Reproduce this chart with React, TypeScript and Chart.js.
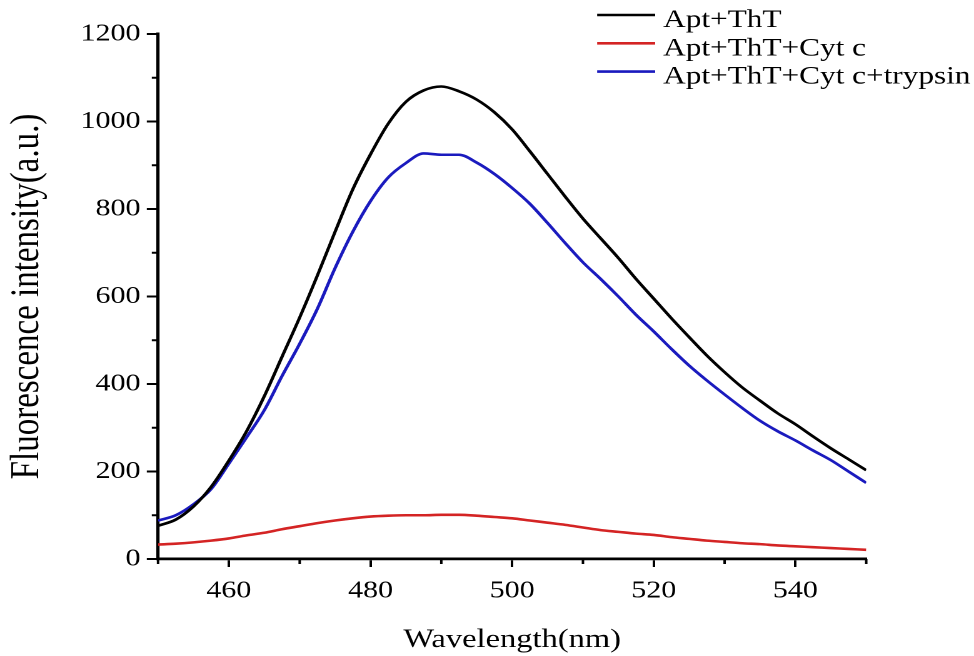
import React, { useEffect, useRef } from "react";
import { Chart, registerables } from "chart.js";

Chart.register(...registerables);

// ---- data ----
const wavelengths = [
  450, 452.5, 455, 457.5, 460, 462.5, 465, 467.5, 470, 472.5,
  475, 477.5, 480, 482.5, 485, 487.5, 490, 492.5, 495, 497.5,
  500, 502.5, 505, 507.5, 510, 512.5, 515, 517.5, 520, 522.5,
  525, 527.5, 530, 532.5, 535, 537.5, 540, 542.5, 545, 547.5, 550,
];

const aptTht = [
  76, 90, 120, 165, 225, 292, 372, 462, 552, 648,
  748, 845, 925, 995, 1045, 1071, 1080, 1069, 1050, 1021,
  982, 932, 880, 828, 778, 733, 688, 640, 595, 550,
  507, 465, 427, 392, 362, 333, 308, 280, 253, 228, 203,
];

const aptThtCyt = [
  33, 35, 38, 42, 47, 54, 60, 68, 75, 82,
  88, 93, 97, 99, 100, 100, 101, 101, 99, 96,
  93, 88, 83, 78, 72, 66, 62, 58, 55, 50,
  46, 42, 39, 36, 34, 31, 29, 27, 25, 23, 21,
];

const aptThtCytTrypsin = [
  88, 100, 125, 160, 218, 278, 340, 418, 492, 572,
  665, 748, 818, 872, 905, 927, 924, 924, 906, 880,
  848, 812, 768, 722, 678, 640, 600, 558, 520, 480,
  442, 408, 376, 345, 316, 292, 271, 248, 226, 200, 174,
];

const seriesLabels = ["Apt+ThT", "Apt+ThT+Cyt c", "Apt+ThT+Cyt c+trypsin"];
const seriesColors = ["#000000", "#d42424", "#1a1abe"];
const seriesValues = [aptTht, aptThtCyt, aptThtCytTrypsin];

const xMin = 450;
const xMax = 550;
const xMinorStep = 10;
const xMajorStep = 20;
const yMin = 0;
const yMax = 1200;
const yMinorStep = 100;
const yMajorStep = 200;

const xTitle = "Wavelength(nm)";
const yTitle = "Fluorescence intensity(a.u.)";

// ---- layout ----
const STRETCH = 1.25;
const CSS_W = 974;
const CSS_H = 656;
const W = Math.round(CSS_W / STRETCH);
const H = CSS_H;
const FONT = '"Liberation Serif", "Times New Roman", serif';

const minorTicksPlugin = {
  id: "minorTicks",
  afterDraw(chart: any) {
    const ctx = chart.ctx;
    const xs = chart.scales.x;
    const ys = chart.scales.y;
    ctx.save();
    ctx.strokeStyle = "#000";
    ctx.lineWidth = 2;
    for (let v = xMin; v <= xMax; v += xMinorStep) {
      if (v % xMajorStep === 0) continue;
      const px = xs.getPixelForValue(v);
      ctx.beginPath();
      ctx.moveTo(px, xs.top);
      ctx.lineTo(px, xs.top + 5);
      ctx.stroke();
    }
    for (let v = yMin; v <= yMax; v += yMinorStep) {
      if (v % yMajorStep === 0) continue;
      const py = ys.getPixelForValue(v);
      ctx.beginPath();
      ctx.moveTo(ys.right, py);
      ctx.lineTo(ys.right - 5, py);
      ctx.stroke();
    }
    ctx.restore();
  },
};

const legendPlugin = {
  id: "customLegend",
  afterDraw(chart: any) {
    const ctx = chart.ctx;
    ctx.save();
    ctx.font = `25px ${FONT}`;
    ctx.textAlign = "left";
    ctx.textBaseline = "alphabetic";
    chart.data.datasets.forEach((ds: any, i: number) => {
      const lineY = 15 + i * 28.3;
      ctx.strokeStyle = ds.borderColor;
      ctx.lineWidth = 2.6;
      ctx.beginPath();
      ctx.moveTo(477.6, lineY);
      ctx.lineTo(524, lineY);
      ctx.stroke();
      ctx.fillStyle = "#000";
      ctx.fillText(ds.label, 530.4, lineY + 12);
    });
    ctx.restore();
  },
};

export default function App() {
  const canvasRef = useRef<HTMLCanvasElement | null>(null);

  useEffect(() => {
    document.body.style.margin = "0";
    document.body.style.overflow = "hidden";
    const canvas = canvasRef.current;
    if (!canvas) return;

    const datasets = seriesLabels.map((label, i) => ({
      label,
      data: wavelengths.map((x, j) => ({ x, y: seriesValues[i][j] })),
      borderColor: seriesColors[i],
      backgroundColor: seriesColors[i],
      borderWidth: 2.6,
      pointRadius: 0,
      cubicInterpolationMode: "monotone" as const,
      fill: false,
    }));

    const chart = new Chart(canvas, {
      type: "line",
      data: { datasets },
      plugins: [minorTicksPlugin, legendPlugin],
      options: {
        animation: false,
        responsive: false,
        devicePixelRatio: 2,
        layout: { padding: { left: 0, top: 34, right: W - 692.8, bottom: 0 } },
        plugins: {
          legend: { display: false },
          tooltip: { enabled: false },
        },
        scales: {
          x: {
            type: "linear",
            min: xMin,
            max: xMax,
            afterFit(scale: any) {
              scale.height = 97;
            },
            ticks: {
              stepSize: xMinorStep,
              autoSkip: false,
              maxRotation: 0,
              padding: 10,
              color: "#000",
              font: { family: FONT, size: 24 },
              callback: (v: any) => (Number(v) % xMajorStep === 0 ? String(v) : ""),
            },
            grid: {
              drawOnChartArea: false,
              drawTicks: true,
              tickLength: 8,
              tickWidth: 2,
              tickColor: (c: any) =>
                c.tick && c.tick.value % xMajorStep === 0 ? "#000" : "rgba(0,0,0,0)",
            },
            border: { display: true, color: "#000", width: 2.8 },
            title: {
              display: true,
              text: xTitle,
              color: "#000",
              font: { family: FONT, size: 26, lineHeight: 1.2 },
              padding: { top: 0, bottom: 0 },
            },
          },
          y: {
            type: "linear",
            min: yMin,
            max: yMax,
            afterFit(scale: any) {
              scale.width = 126.4;
            },
            ticks: {
              stepSize: yMinorStep,
              autoSkip: false,
              padding: 5,
              color: "#000",
              font: { family: FONT, size: 24 },
              callback: (v: any) => (Number(v) % yMajorStep === 0 ? String(v) : ""),
            },
            grid: {
              drawOnChartArea: false,
              drawTicks: true,
              tickLength: 9,
              tickWidth: 2,
              tickColor: (c: any) =>
                c.tick && c.tick.value % yMajorStep === 0 ? "#000" : "rgba(0,0,0,0)",
            },
            border: { display: true, color: "#000", width: 2.6 },
            title: {
              display: true,
              text: yTitle,
              color: "#000",
              font: { family: FONT, size: 33, lineHeight: 1.2 },
              padding: { top: 2, bottom: 0 },
            },
          },
        },
      },
    });

    return () => chart.destroy();
  }, []);

  return (
    <canvas
      ref={canvasRef}
      width={W}
      height={H}
      style={{ width: `${CSS_W}px`, height: `${CSS_H}px`, display: "block" }}
    />
  );
}
